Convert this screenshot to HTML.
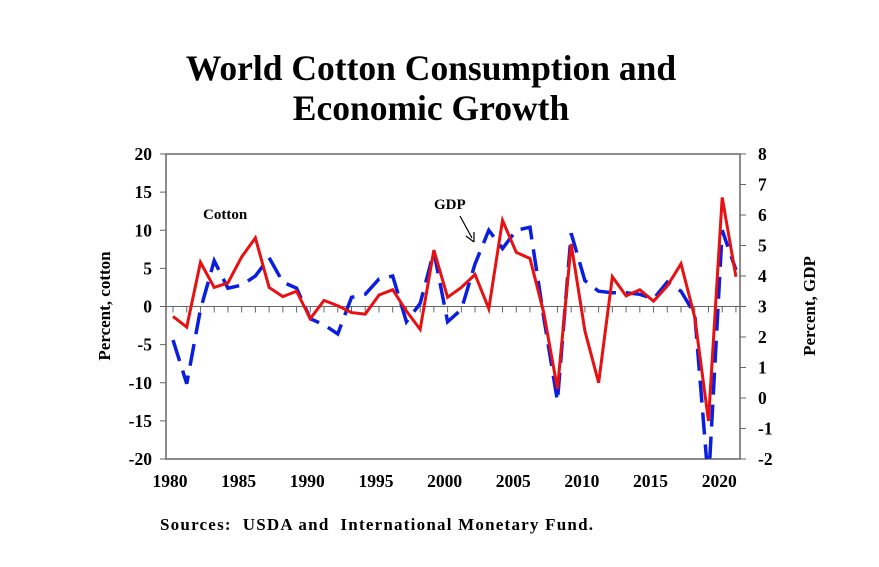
<!DOCTYPE html>
<html><head><meta charset="utf-8"><style>
body{margin:0;background:#fff;}
svg text{font-family:"Liberation Serif",serif;font-weight:bold;fill:#000;}
</style></head><body>
<svg id="chart" width="879" height="562" viewBox="0 0 879 562" xmlns="http://www.w3.org/2000/svg">
<text x="431" y="80" font-size="35.5" text-anchor="middle">World Cotton Consumption and</text>
<text x="431" y="120" font-size="35.5" text-anchor="middle">Economic Growth</text>
<defs><clipPath id="pc"><rect x="166" y="154" width="574" height="305"/></clipPath></defs>
<rect x="166" y="154" width="574" height="305" fill="none" stroke="#666" stroke-width="1.5"/>
<g id="axes"></g>
<g id="series" clip-path="url(#pc)"></g>
<text transform="translate(110,306) rotate(-90)" font-size="17" text-anchor="middle">Percent, cotton</text>
<text transform="translate(815,306) rotate(-90)" font-size="17" text-anchor="middle">Percent, GDP</text>
<text x="203" y="219" font-size="15">Cotton</text>
<text x="434" y="209" font-size="15">GDP</text>
<line x1="460" y1="216" x2="472" y2="238" stroke="#000" stroke-width="1.2"/>
<path d="M474 242 L466 236 M474 242 L474 232" stroke="#000" stroke-width="1.2" fill="none"/>
<text x="160" y="530" font-size="17" textLength="433" lengthAdjust="spacing" xml:space="preserve">Sources:  USDA and  International Monetary Fund.</text>
</svg>
<script>
const years=[];for(let y=1980;y<=2021;y++)years.push(y);
const cotton=[-1.3,-2.7,5.8,2.5,3.1,6.5,9.0,2.5,1.3,2.0,-1.6,0.8,0.1,-0.8,-1.0,1.5,2.2,-0.6,-3.0,7.4,1.2,2.5,4.2,-0.3,11.3,7.1,6.3,-0.8,-10.8,8.2,-3.2,-10.0,3.9,1.4,2.2,0.7,2.7,5.6,-1.4,-15.0,14.3,3.9];
const gdp=[1.9,0.47,2.9,4.5,3.6,3.7,4.0,4.6,3.8,3.6,2.6,2.4,2.1,3.3,3.4,3.9,4.0,2.5,3.1,4.8,2.5,2.9,4.4,5.5,4.9,5.5,5.6,2.65,-0.1,5.4,3.85,3.5,3.45,3.45,3.4,3.25,3.8,3.5,2.75,-2.8,5.5,4.2];
const leftTicks=[20,15,10,5,0,-5,-10,-15,-20];
const rightTicks=[8,7,6,5,4,3,2,1,0,-1,-2];
const xLabels=[1980,1985,1990,1995,2000,2005,2010,2015,2020];
const NS="http://www.w3.org/2000/svg";
const X=y=>173+(y-1980)*13.73;
const YL=v=>306.5-v*7.625;
const YR=v=>306.5-(v-3)*30.5;
const ax=document.getElementById('axes'),se=document.getElementById('series');
function mk(tag,at,par){const e=document.createElementNS(NS,tag);for(const k in at)e.setAttribute(k,at[k]);par.appendChild(e);return e;}
leftTicks.forEach(v=>{
 const l=mk('line',{x1:160,x2:166,y1:YL(v),y2:YL(v),stroke:'#666'},ax);
 
 
 const t=mk('text',{x:152,y:YL(v)+6,'font-size':17.5,'text-anchor':'end'},ax);t.textContent=v;
 
 
});
rightTicks.forEach(v=>{
 const l=mk('line',{x1:740,x2:746,y1:YR(v),y2:YR(v),stroke:'#666'},ax);
 
 
 const t=mk('text',{x:758,y:YR(v)+6,'font-size':17.5,'text-anchor':'start'},ax);t.textContent=v;
 
 
});
const z=mk('line',{x1:166,x2:740,y1:YL(0),y2:YL(0),stroke:'#666'},ax);


years.forEach(y=>{
 const l=mk('line',{x1:X(y),x2:X(y),y1:YL(0),y2:YL(0)+6,stroke:'#666'},ax);
 
 
});
xLabels.forEach(y=>{
 const t=mk('text',{x:X(y)-3,y:487,'font-size':17.5,'text-anchor':'middle'},ax);t.textContent=y;
 
 
});
const gp=mk('polyline',{points:years.map((y,i)=>X(y)+','+YR(gdp[i])).join(' '),fill:'none',stroke:'#0a1ee0','stroke-width':3.5,'stroke-dasharray':'22,10'},se);


const cp=mk('polyline',{points:years.map((y,i)=>X(y)+','+YL(cotton[i])).join(' '),fill:'none',stroke:'#e81010','stroke-width':3},se);


</script>
</body></html>
